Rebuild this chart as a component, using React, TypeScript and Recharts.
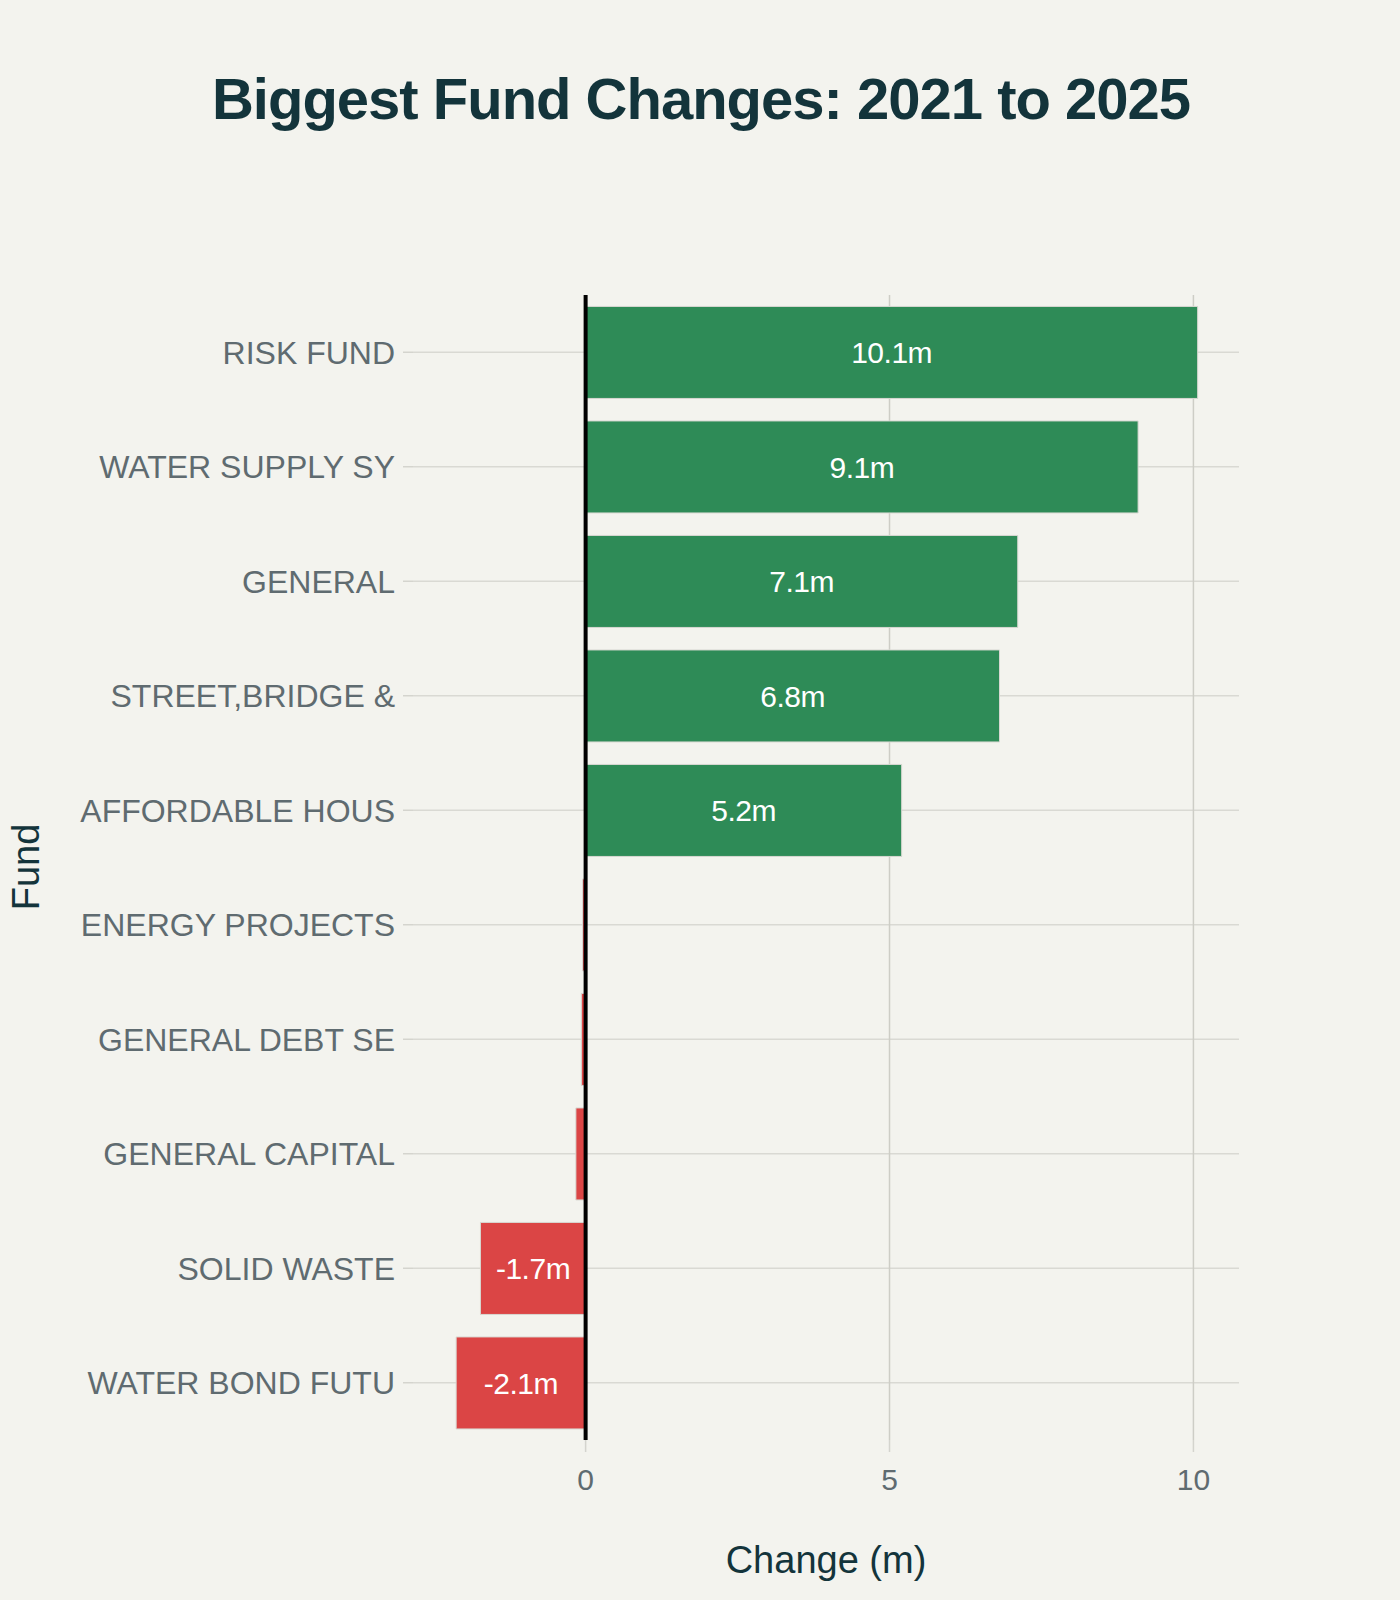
import {
  BarChart,
  Bar,
  XAxis,
  YAxis,
  CartesianGrid,
  ReferenceLine,
  LabelList,
  Cell,
} from 'recharts'

const funds = [
  'RISK FUND',
  'WATER SUPPLY SY',
  'GENERAL',
  'STREET,BRIDGE &',
  'AFFORDABLE HOUS',
  'ENERGY PROJECTS',
  'GENERAL DEBT SE',
  'GENERAL CAPITAL',
  'SOLID WASTE',
  'WATER BOND FUTU',
]

const changes = [10.07, 9.09, 7.11, 6.81, 5.2, -0.05, -0.07, -0.16, -1.73, -2.13]

const xTicks = [0, 5, 10]

const FONT = '"Liberation Sans", Arial, sans-serif'
const BG = '#F3F3EE'
const DARK = '#13343B'
const TICK = '#5F6B70'

const data = funds.map((fund, i) => ({ fund, change: changes[i] }))

// white label centred in the bar, shrunk when the bar is too thin
function BarLabel(props: any) {
  const { x, y, width, height, value } = props
  const text = `${value.toFixed(1)}m`
  const w = Math.abs(width)
  const size = Math.min(30, (w - 4) / (text.length * 0.56))
  if (size < 3) return null
  return (
    <text
      x={x + width / 2}
      y={y + height / 2}
      dy="0.36em"
      textAnchor="middle"
      fill="#ffffff"
      fontSize={size}
      letterSpacing={-0.5}
      fontFamily={FONT}
    >
      {text}
    </text>
  )
}

export default function App() {
  return (
    <div style={{ position: 'absolute', left: 0, top: 0, width: 1400, height: 1600, background: BG }}>
      <BarChart
        width={1400}
        height={1600}
        data={data}
        layout="vertical"
        barCategoryGap="10%"
        margin={{ top: 295, right: 161, bottom: 100, left: 13 }}
      >
        <CartesianGrid horizontal={true} vertical={false} syncWithTicks stroke="#D9D9D3" strokeWidth={1.5} />
        <CartesianGrid horizontal={false} vertical={true} syncWithTicks stroke="#CDCDC6" strokeWidth={1.5} />
        <XAxis
          type="number"
          domain={[-2.84, 10.75]}
          ticks={xTicks}
          allowDataOverflow
          axisLine={false}
          tickSize={12}
          tickMargin={17}
          height={60}
          tickLine={{ stroke: '#D4D4CE', strokeWidth: 1.5 }}
          tick={{ fill: TICK, fontSize: 30, fontFamily: FONT }}
        />
        <YAxis
          type="category"
          dataKey="fund"
          width={400}
          axisLine={false}
          tickSize={10}
          tickMargin={8}
          interval={0}
          tickLine={{ stroke: '#D4D4CE', strokeWidth: 1.5 }}
          tick={{ fill: TICK, fontSize: 32, fontFamily: FONT }}
        />
        <Bar dataKey="change" isAnimationActive={false} stroke="#D8D8D2" strokeWidth={1}>
          {data.map((d) => (
            <Cell key={d.fund} fill={d.change >= 0 ? '#2E8B57' : '#DB4545'} />
          ))}
          <LabelList dataKey="change" content={BarLabel} />
        </Bar>
        <ReferenceLine x={0} stroke="#000000" strokeWidth={4} />
      </BarChart>
      <svg
        width={1400}
        height={1600}
        style={{ position: 'absolute', left: 0, top: 0, pointerEvents: 'none' }}
      >
        <text
          x={701}
          y={119}
          textAnchor="middle"
          fill={DARK}
          fontSize={58}
          fontWeight="bold"
          letterSpacing={-1}
          fontFamily={FONT}
        >
          Biggest Fund Changes: 2021 to 2025
        </text>
        <text x={826} y={1573} textAnchor="middle" fill={DARK} fontSize={38} fontFamily={FONT}>
          Change (m)
        </text>
        <text
          x={39}
          y={867}
          transform="rotate(-90, 39, 867)"
          textAnchor="middle"
          fill={DARK}
          fontSize={38}
          fontFamily={FONT}
        >
          Fund
        </text>
      </svg>
    </div>
  )
}
